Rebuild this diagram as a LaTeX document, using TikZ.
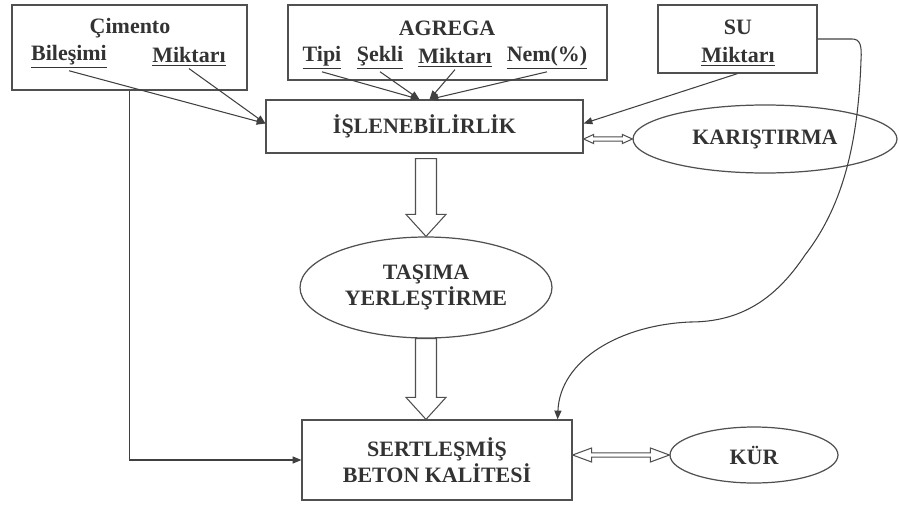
\documentclass[tikz,border=0pt]{standalone}
\usepackage{fontspec}
\setmainfont{Liberation Serif}
\usetikzlibrary{arrows.meta,calc,shapes.geometric}

\definecolor{linegray}{HTML}{505050}
\definecolor{textgray}{HTML}{333333}

\tikzset{
	box/.style={draw=linegray, line width=0.7pt, inner sep=0pt},
	oval/.style={draw=linegray, line width=0.7pt, ellipse, inner sep=0pt},
	lbl/.style={text=textgray, font=\fontsize{12.5}{15}\selectfont\bfseries, inner sep=1pt},
	feed/.style={draw=black!75, line width=0.6pt, -{Triangle[length=5pt,width=4pt]}},
	hollow/.style={draw=linegray, line width=0.6pt, fill=white},
}

% wide hollow arrow pointing down
\newcommand{\bigdown}[2]{%
	\draw[hollow] ($(#1)+(-10.5,0)$) -- ($(#2)+(-10.5,-22)$) -- ($(#2)+(-20,-22)$) -- (#2) -- ($(#2)+(20,-22)$) -- ($(#2)+(10.5,-22)$) -- ($(#1)+(10.5,0)$) -- cycle;}
% hollow arrow with two heads: left end, right end, head length, head half width
\newcommand{\dblarrow}[4]{%
	\draw[hollow] (#1) -- ($(#1)+(#3,-#4)$) -- ($(#1)+(#3,-2.2)$) -- ($(#2)+(-#3,-2.2)$) -- ($(#2)+(-#3,-#4)$) -- (#2) -- ($(#2)+(-#3,#4)$) -- ($(#2)+(-#3,2.2)$) -- ($(#1)+(#3,2.2)$) -- ($(#1)+(#3,#4)$) -- cycle;}

\begin{document}
\begin{tikzpicture}[x=0.02cm, y=-0.02cm]
	\useasboundingbox (0,0) rectangle (899,507);
	% inputs
	\node[box, minimum width=4.7cm, minimum height=1.7cm] (cim) at (129.5,47.5) {};
	\node[lbl] (cimt) at (130,28) {Çimento};
	\node[lbl] (bil) at (69,57) {\underline{Bileşimi}};
	\node[lbl] (cmik) at (189,57) {\underline{Miktarı}};

	\node[box, minimum width=6.38cm, minimum height=1.5cm] (agr) at (447.5,42.5) {};
	\node[lbl] (agrt) at (447,28) {AGREGA};
	\node[lbl] (tip) at (322,58) {\underline{Tipi}};
	\node[lbl] (sek) at (380,58) {\underline{Şekli}};
	\node[lbl] (amik) at (455,58) {\underline{Miktarı}};
	\node[lbl] (nem) at (547,58) {\underline{Nem(\%)}};

	\node[box, minimum width=3.18cm, minimum height=1.36cm] (su) at (737.5,39) {};
	\node[lbl] (sut) at (738,27) {SU};
	\node[lbl] (smik) at (738,57) {\underline{Miktarı}};

	% stages
	\node[box, lbl, minimum width=6.34cm, minimum height=1.06cm] (isl) at (424.5,126.5) {İŞLENEBİLİRLİK};
	\node[oval, lbl, minimum width=5.28cm, minimum height=1.36cm] (kar) at (765,139) {KARIŞTIRMA};
	\node[oval, lbl, align=center, minimum width=5.04cm, minimum height=2.02cm] (tas) at (426,287.5) {TAŞIMA\\YERLEŞTİRME};
	\node[box, lbl, align=center, minimum width=5.4cm, minimum height=1.6cm] (sert) at (437,460) {SERTLEŞMİŞ\\BETON KALİTESİ};
	\node[oval, lbl, minimum width=3.36cm, minimum height=1.12cm] (kur) at (754,455) {KÜR};

	\draw[feed] (bil.south) -- ($(isl.west)+(0,-3)$);
	\draw[feed] (cmik.south) -- ($(isl.west)+(0,-3)$);
	\draw[feed] (tip.south) -- ($(isl.north)+(-5,0)$);
	\draw[feed] (sek.south) -- ($(isl.north)+(-5,0)$);
	\draw[feed] (amik.south) -- ($(isl.north)+(5,0)$);
	\draw[feed] (nem.south) -- ($(isl.north)+(5,0)$);
	\draw[feed] (su.south) -- ($(isl.east)+(0,-3)$);
	\draw[feed] ($(cim.south west)+(118,0)$) |- (sert.west);
	\draw[feed] (su.east) -- (852,39) .. controls (860,39) and (862,45) .. (861,60) .. controls (858,150) and (840,210) .. (805,255) .. controls (775,300) and (740,322) .. (690,322) .. controls (620,325) and (560,360) .. ($(sert.north east)+(-15,0)$);

	\coordinate (d1) at ($(isl.south -| tas.north)+(0,5)$);
	\bigdown{d1}{tas.north}
	\bigdown{tas.south}{sert.north -| tas.south}
	\dblarrow{isl.east |- kar.west}{kar.west}{10}{4.5}
	\dblarrow{sert.east |- kur.west}{kur.west}{19}{7}
\end{tikzpicture}
\end{document}
